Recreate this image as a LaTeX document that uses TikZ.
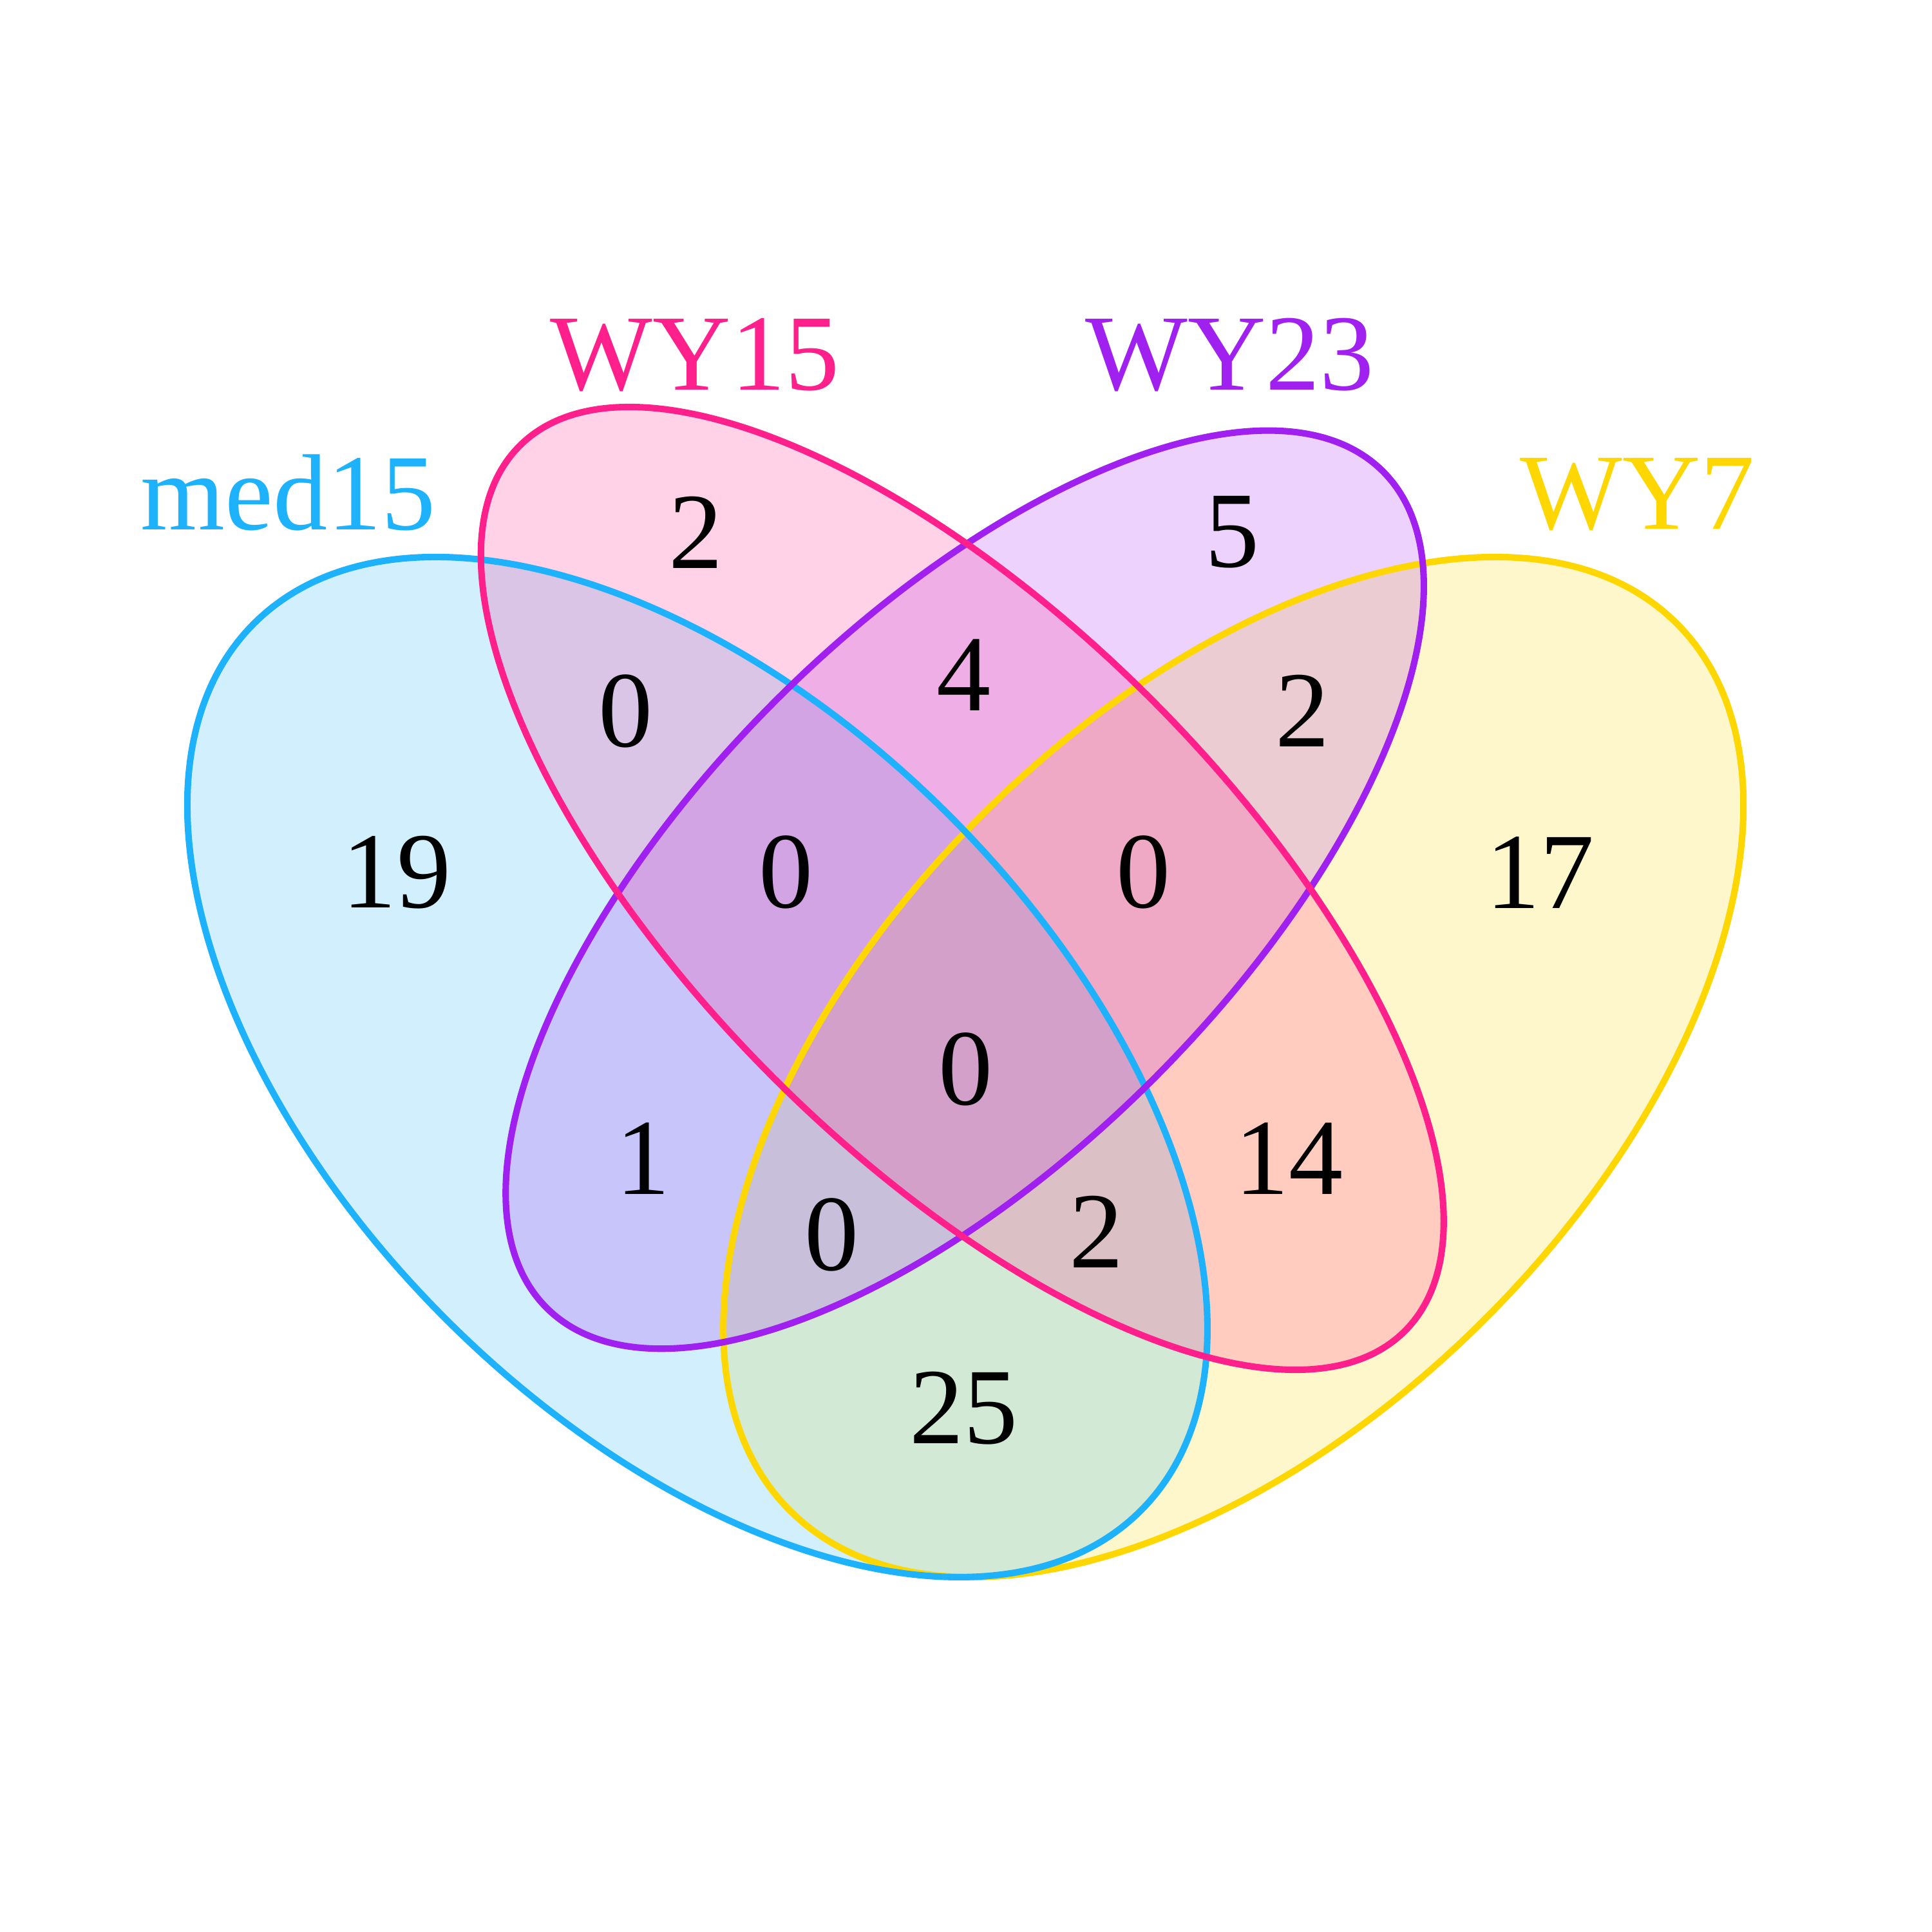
\documentclass[tikz,border=0pt]{standalone}
\usepackage{fontspec}
\setmainfont{Liberation Serif}
\definecolor{cmed}{RGB}{30,178,252}
\definecolor{cwyf}{RGB}{255,32,140}
\definecolor{cwyt}{RGB}{160,32,240}
\definecolor{cwys}{RGB}{255,215,0}
\begin{document}
\begin{tikzpicture}[x=0.01cm, y=-0.01cm,
  setfill/.style={fill opacity=0.2},
  setline/.style={line width=1.5pt},
  num/.style={font=\fontsize{25}{30}\selectfont, inner sep=0pt, text=black},
  lab/.style={font=\fontsize{25}{30}\selectfont, inner sep=0pt}]
\useasboundingbox[fill=white] (0,0) rectangle (1568,1568);
% fills
\fill[cwys, setfill, rotate around={45:(1001,866)}] (1001,866) ellipse (509 and 289);
\fill[cmed, setfill, rotate around={-45:(566,866)}] (566,866) ellipse (509 and 289);
\fill[cwyt, setfill, rotate around={45:(783,722)}] (783,722) ellipse (480 and 217);
\fill[cwyf, setfill, rotate around={-45:(781,721)}] (781,721) ellipse (508 and 217);
% outlines
\draw[cwys, setline, rotate around={45:(1001,866)}] (1001,866) ellipse (509 and 289);
\draw[cmed, setline, rotate around={-45:(566,866)}] (566,866) ellipse (509 and 289);
\draw[cwyt, setline, rotate around={45:(783,722)}] (783,722) ellipse (480 and 217);
\draw[cwyf, setline, rotate around={-45:(781,721)}] (781,721) ellipse (508 and 217);
% labels
\node[lab, text=cmed] (lmed) at (234,400) {med15};
\node[lab, text=cwyf] (lwyf) at (564,288) {WY15};
\node[lab, text=cwyt] (lwyt) at (998,288) {WY23};
\node[lab, text=cwys] (lwys) at (1329,401) {WY7};
% numbers
\node[num] (n1) at (565,432) {2};
\node[num] (n2) at (1000,432) {5};
\node[num] (n3) at (508,577) {0};
\node[num] (n4) at (782,548) {4};
\node[num] (n5) at (1057,577) {2};
\node[num] (n6) at (322,708) {19};
\node[num] (n7) at (638,708) {0};
\node[num] (n8) at (928,708) {0};
\node[num] (n9) at (1250,708) {17};
\node[num] (n10) at (784,868) {0};
\node[num] (n11) at (522,940) {1};
\node[num] (n12) at (1046,940) {14};
\node[num] (n13) at (675,1002) {0};
\node[num] (n14) at (890,1000) {2};
\node[num] (n15) at (782,1143) {25};
\end{tikzpicture}
\end{document}
